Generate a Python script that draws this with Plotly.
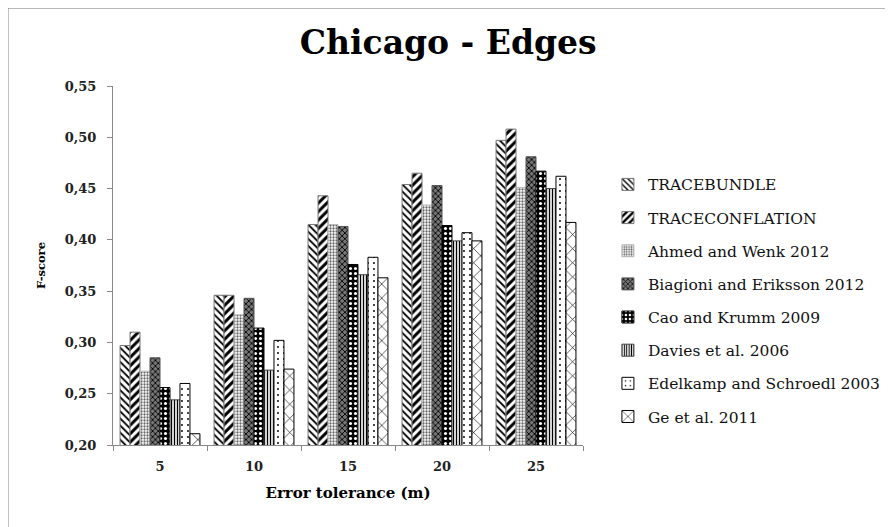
import plotly.graph_objects as go

categories = ["5", "10", "15", "20", "25"]
series_names = [
    "TRACEBUNDLE",
    "TRACECONFLATION",
    "Ahmed and Wenk 2012",
    "Biagioni and Eriksson 2012",
    "Cao and Krumm 2009",
    "Davies et al. 2006",
    "Edelkamp and Schroedl 2003",
    "Ge et al. 2011",
]
tracebundle = [0.297, 0.346, 0.415, 0.454, 0.497]
traceconflation = [0.310, 0.346, 0.443, 0.465, 0.508]
ahmed = [0.272, 0.327, 0.415, 0.434, 0.451]
biagioni = [0.285, 0.343, 0.413, 0.453, 0.481]
cao = [0.256, 0.314, 0.376, 0.414, 0.467]
davies = [0.244, 0.273, 0.366, 0.399, 0.450]
edelkamp = [0.260, 0.302, 0.383, 0.407, 0.462]
ge = [0.211, 0.274, 0.363, 0.399, 0.417]
y_ticks = [0.20, 0.25, 0.30, 0.35, 0.40, 0.45, 0.50, 0.55]

values = [tracebundle, traceconflation, ahmed, biagioni, cao, davies, edelkamp, ge]

styles = [
    dict(shape="\\", fgcolor="black", bgcolor="white", size=5, solidity=0.35, line="#777777"),
    dict(shape="/", fgcolor="black", bgcolor="white", size=6, solidity=0.5, line="#777777"),
    dict(shape=".", fgcolor="#666666", bgcolor="white", size=3, solidity=0.45, line="#bbbbbb"),
    dict(shape="x", fgcolor="black", bgcolor="#777777", size=4, solidity=0.4, line="#555555"),
    dict(shape=".", fgcolor="white", bgcolor="black", size=5, solidity=0.3, line="black"),
    dict(shape="|", fgcolor="black", bgcolor="white", size=3, solidity=0.45, line="#444444"),
    dict(shape=".", fgcolor="black", bgcolor="white", size=6, solidity=0.08, line="black"),
    dict(shape="x", fgcolor="black", bgcolor="white", size=10, solidity=0.12, line="black"),
]

FONT = "DejaVu Serif"

fig = go.Figure()
for name, vals, st in zip(series_names, values, styles):
    fig.add_trace(go.Bar(
        x=categories, y=vals, name=name, legendgroup=name,
        marker=dict(
            color="white",
            line=dict(color=st["line"], width=1),
            pattern=dict(shape=st["shape"], fgcolor=st["fgcolor"], bgcolor=st["bgcolor"],
                         size=st["size"], solidity=st["solidity"], fillmode="replace"),
        ),
    ))

fig.update_layout(
    width=893, height=527,
    margin=dict(l=105, r=318, t=78, b=90),
    paper_bgcolor="white", plot_bgcolor="white",
    separators=", ",
    barmode="group", bargap=0.15, bargroupgap=0,
    title=dict(text="<b>Chicago - Edges</b>", x=0.493, xref="container", xanchor="center",
               y=0.935, yref="container", yanchor="middle",
               font=dict(family=FONT, size=33, color="black")),
    font=dict(family=FONT, color="black"),
    legend=dict(x=1.053, y=0.772, xanchor="left", yanchor="top",
                font=dict(family=FONT, size=15.5, color="#111111"),
                tracegroupgap=10, itemwidth=30, bgcolor="rgba(0,0,0,0)"),
    showlegend=True,
)
fig.update_yaxes(
    range=[0.20, 0.55], tickvals=y_ticks, tickformat=".2f",
    ticks="outside", ticklen=5, tickcolor="#888888", ticklabelstandoff=8,
    showline=True, linecolor="#888888", linewidth=1, showgrid=False, zeroline=False,
    tickfont=dict(family=FONT, size=13, color="#222222", weight="bold"),
    title=dict(text="<b>F-score</b>", font=dict(family=FONT, size=11.5, color="black"), standoff=16),
)
fig.update_xaxes(
    range=[-0.5, 4.5],
    ticks="outside", ticklen=5, tickcolor="#888888", tickson="boundaries", ticklabelstandoff=9,
    showline=True, linecolor="#888888", linewidth=1, showgrid=False,
    tickfont=dict(family=FONT, size=13, color="#222222", weight="bold"),
    title=dict(text="<b>Error tolerance (m)</b>", font=dict(family=FONT, size=15, color="black"), standoff=14),
)
# outer chart border (left and top edges visible in the reference)
fig.add_shape(type="rect", xref="paper", yref="paper",
              x0=-0.2234, x1=2.0, y0=-1.0, y1=1.217,
              line=dict(color="#888888", width=1), fillcolor="rgba(0,0,0,0)", layer="below")

fig.write_html("out.html")
